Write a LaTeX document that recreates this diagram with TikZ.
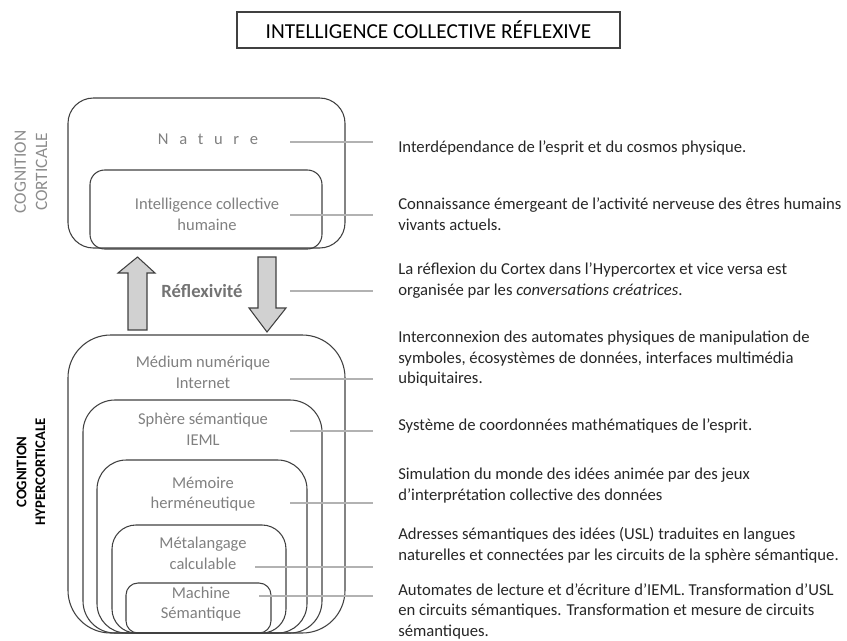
\documentclass[tikz,border=0pt]{standalone}
\usepackage{fontspec}
\setmainfont{Carlito}
\usetikzlibrary{fit}
\begin{document}
\begin{tikzpicture}[x=0.75pt,y=-0.75pt]
\tikzset{
 frame/.style={draw=black!75, line width=0.8pt, inner sep=0pt},
 lbl/.style={text=black!50, align=center, font=\fontsize{12.4}{15.5}\selectfont},
 desc/.style={anchor=west, align=left, inner sep=0pt, font=\fontsize{12.5}{15.4}\selectfont, text=black!85},
 link/.style={draw=black!30, line width=1.1pt},
 bigarrow/.style={draw=black!75, fill=black!18, line width=0.8pt, line join=miter},
 vlabel/.style={rotate=90, align=center}
}
\useasboundingbox (0,0) rectangle (847,640);

% title
\node[draw=black!75, line width=0.8pt, minimum width=383*0.75pt, minimum height=36*0.75pt, font=\fontsize{16}{18}\selectfont] (title) at (428.5,30) {INTELLIGENCE COLLECTIVE RÉFLEXIVE};

% cortical boxes
\node[frame, rounded corners=19pt, fit={(68,98)(345,248)}] (cortex) {};
\node[frame, rounded corners=11pt, fit={(90,170)(322,249)}] (ichum) {};
\node[lbl] (tnature) at (208,139) {N\hspace{8pt}a\hspace{8pt}t\hspace{8pt}u\hspace{8pt}r\hspace{8pt}e};
\node[lbl] (tich) at (207,214) {Intelligence collective\\humaine};

% hypercortical boxes
\node[frame, rounded corners=32pt, fit={(68,335)(345,633)}] (medium) {};
\node[frame, rounded corners=24pt, fit={(83,400)(322,633)}] (sphere) {};
\node[frame, rounded corners=22pt, fit={(97,460)(307,633)}] (memoire) {};
\node[frame, rounded corners=18pt, fit={(112,525)(286,633)}] (metalang) {};
\node[frame, rounded corners=9pt, fit={(126,583)(271,633)}] (machine) {};

\node[lbl] (tmedium) at (203,372) {Médium numérique\\Internet};
\node[lbl] (tsphere) at (203,429) {Sphère sémantique\\IEML};
\node[lbl] (tmemoire) at (203,494) {Mémoire\\herméneutique};
\node[lbl] (tmeta) at (203,553) {Métalangage\\calculable};
\node[lbl] (tmachine) at (201,604) {Machine\\Sémantique};

% side labels
\node[vlabel, text=black!45, font=\fontsize{13}{16}\selectfont] (cortlbl) at (31,172) {COGNITION\\CORTICALE};
\node[vlabel, font=\fontsize{11}{14}\selectfont\bfseries] (hyplbl) at (31,472) {COGNITION\\HYPERCORTICALE};

% reflexivity arrows
\draw[bigarrow] (128,330) -- (128,273) -- (118,273) -- (137.5,257) -- (155,273) -- (147,273) -- (147,330) -- cycle;
\draw[bigarrow] (258,257) -- (276,257) -- (276,308) -- (286,308) -- (267,332) -- (249,308) -- (258,308) -- cycle;
\node[font=\fontsize{14}{16}\selectfont\bfseries, text=black!55] (reflex) at (202,291) {Réflexivité};

% descriptions
\node[desc] (d1) at (398,148) {Interdépendance de l’esprit et du cosmos physique.};
\node[desc] (d2) at (398,214) {Connaissance émergeant de l’activité nerveuse des êtres humains\\vivants actuels.};
\node[desc] (d3) at (398,280.5) {La réflexion du Cortex dans l’Hypercortex et vice versa est\\organisée par les \emph{conversations créatrices}.};
\node[desc] (d4) at (398,359) {Interconnexion des automates physiques de manipulation de\\symboles, écosystèmes de données, interfaces multimédia\\ubiquitaires.};
\node[desc] (d5) at (398,426) {Système de coordonnées mathématiques de l’esprit.};
\node[desc] (d6) at (398,485.5) {Simulation du monde des idées animée par des jeux\\d’interprétation collective des données};
\node[desc] (d7) at (398,545) {Adresses sémantiques des idées (USL) traduites en langues\\naturelles et connectées par les circuits de la sphère sémantique.};
\node[desc] (d8) at (398,611) {Automates de lecture et d’écriture d’IEML. Transformation d’USL\\en circuits sémantiques. Transformation et mesure de circuits\\sémantiques.};

% connector lines
\coordinate (s1) at (290,142); \coordinate (e1) at (373,142);
\coordinate (s2) at (290,215); \coordinate (e2) at (373,215);
\coordinate (s3) at (290,291); \coordinate (e3) at (373,291);
\coordinate (s4) at (290,379); \coordinate (e4) at (373,379);
\coordinate (s5) at (290,431); \coordinate (e5) at (373,431);
\coordinate (s6) at (290,503); \coordinate (e6) at (373,503);
\coordinate (s7) at (255,567); \coordinate (e7) at (373,567);
\coordinate (s8) at (259,596); \coordinate (e8) at (373,596);
\foreach \i in {1,...,8} \draw[link] (s\i) -- (e\i);
\end{tikzpicture}
\end{document}
